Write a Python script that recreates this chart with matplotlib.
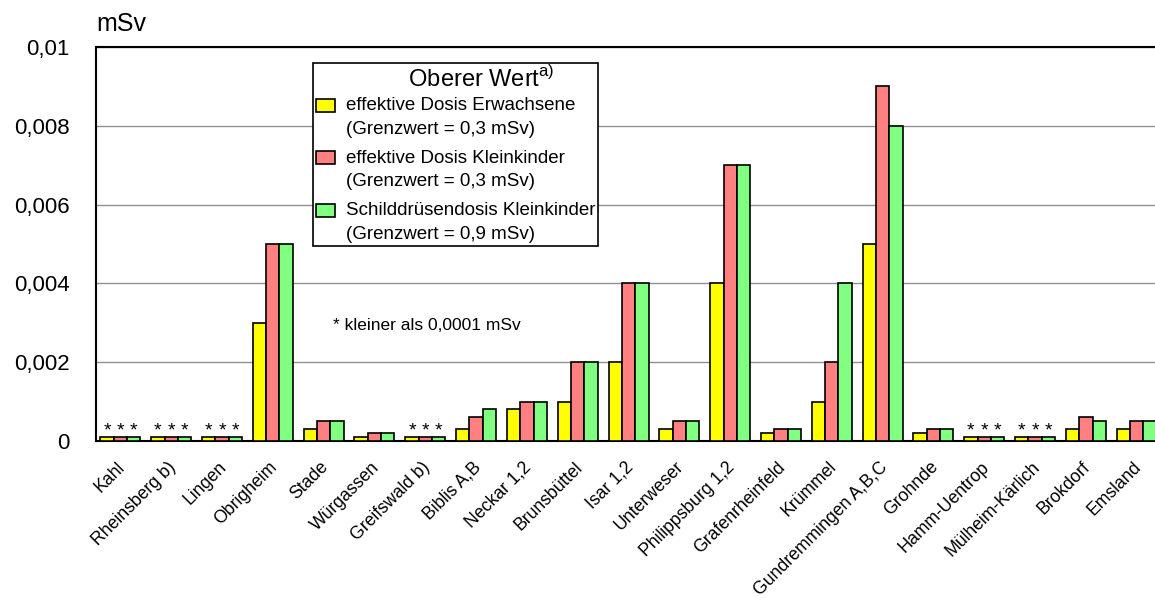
import matplotlib
matplotlib.use("Agg")
from matplotlib import pyplot as plt
from matplotlib.transforms import ScaledTranslation
from matplotlib.legend_handler import HandlerPatch
from matplotlib.patches import Rectangle
import numpy as np

plt.rcParams['font.family'] = ['Liberation Sans', 'DejaVu Sans']
plt.rcParams['mathtext.fontset'] = 'custom'
plt.rcParams['mathtext.rm'] = 'Liberation Sans'

# Kraftwerke (Standorte)
standorte = ["Kahl", "Rheinsberg b)", "Lingen", "Obrigheim", "Stade", "Würgassen",
             "Greifswald b)", "Biblis A,B", "Neckar 1,2", "Brunsbüttel", "Isar 1,2",
             "Unterweser", "Philippsburg 1,2", "Grafenrheinfeld", "Krümmel",
             "Gundremmingen A,B,C", "Grohnde", "Hamm-Uentrop", "Mülheim-Kärlich",
             "Brokdorf", "Emsland"]

# oberer Wert in mSv
erwachsene = [0.0001, 0.0001, 0.0001, 0.003, 0.0003, 0.0001, 0.0001, 0.0003, 0.0008, 0.001,
              0.002, 0.0003, 0.004, 0.0002, 0.001, 0.005, 0.0002, 0.0001, 0.0001, 0.0003, 0.0003]
kleinkinder = [0.0001, 0.0001, 0.0001, 0.005, 0.0005, 0.0002, 0.0001, 0.0006, 0.001, 0.002,
               0.004, 0.0005, 0.007, 0.0003, 0.002, 0.009, 0.0003, 0.0001, 0.0001, 0.0006, 0.0005]
schilddruese = [0.0001, 0.0001, 0.0001, 0.005, 0.0005, 0.0002, 0.0001, 0.0008, 0.001, 0.002,
                0.004, 0.0005, 0.007, 0.0003, 0.004, 0.008, 0.0003, 0.0001, 0.0001, 0.0005, 0.0005]

# Standorte mit Werten kleiner als 0,0001 mSv
kleiner = ["Kahl", "Rheinsberg b)", "Lingen", "Greifswald b)", "Hamm-Uentrop", "Mülheim-Kärlich"]

yticks = [0, 0.002, 0.004, 0.006, 0.008, 0.01]
ylabels = ["0", "0,002", "0,004", "0,006", "0,008", "0,01"]

labels = ["effektive Dosis Erwachsene\n(Grenzwert = 0,3 mSv)",
          "effektive Dosis Kleinkinder\n(Grenzwert = 0,3 mSv)",
          "Schilddrüsendosis Kleinkinder\n(Grenzwert = 0,9 mSv)"]
farben = ["#FFFF00", "#FF8080", "#80FF80"]


def oben_kaestchen(legend, orig_handle, xdescent, ydescent, width, height, fontsize):
    # Kaestchen neben der ersten Textzeile
    return Rectangle((-xdescent, -ydescent + 0.66 * fontsize), width, height)


fig = plt.figure(figsize=(11.55, 5.98), dpi=100)
ax = fig.add_axes([96 / 1155, 1 - 441 / 598, 1 - 96 / 1155, (441 - 47) / 598])

x = np.arange(len(standorte))
w = 0.262
handles = []
for i, (werte, farbe, lab) in enumerate(zip([erwachsene, kleinkinder, schilddruese], farben, labels)):
    b = ax.bar(x + (i - 1) * w, werte, w, color=farbe, edgecolor="black", linewidth=1.2,
               label=lab, zorder=3)
    handles.append(b.patches[0])
    for xi, name, v in zip(x, standorte, werte):
        if name in kleiner:
            ax.annotate("*", (xi + (i - 1) * w, v), xytext=(0, -1.5), textcoords="offset points",
                        ha="center", va="bottom", fontsize=14)

ax.set_xlim(-0.48, 20.36)
ax.set_ylim(0, 0.01)
ax.set_yticks(yticks)
ax.set_yticklabels(ylabels, fontsize=16)
ax.yaxis.grid(True, color="#909090", linewidth=1, zorder=0)
ax.tick_params(axis="y", length=0, pad=19)

ax.set_xticks(x)
ax.set_xticklabels(standorte, rotation=45, ha="right", va="center", rotation_mode="anchor",
                   fontsize=12.7)
ax.tick_params(axis="x", length=0, pad=17)
for lbl in ax.get_xticklabels():
    lbl.set_transform(lbl.get_transform() + ScaledTranslation(2 / 100, 0, fig.dpi_scale_trans))

for s in ["left", "bottom", "top"]:
    ax.spines[s].set_color("black")
    ax.spines[s].set_linewidth(1.5)
ax.spines["right"].set_visible(False)

fig.text(96 / 1155, 1 - 24 / 598, "mSv", fontsize=18, ha="left", va="center")
fig.text(333 / 1155, 1 - 326 / 598, "* kleiner als 0,0001 mSv", fontsize=12.5,
         ha="left", va="center")

leg = ax.legend(handles=handles, labels=labels, loc="upper left",
                bbox_to_anchor=(313 / 1155, 1 - 63 / 598),
                bbox_transform=fig.transFigure, borderaxespad=0, fancybox=False,
                edgecolor="black", framealpha=1, fontsize=13.5,
                title=r"        Oberer Wert$^{\mathrm{a)}}$", title_fontsize=17,
                handlelength=1.0, handleheight=0.7, handletextpad=0.6,
                labelspacing=0.64, borderpad=0.15,
                handler_map={Rectangle: HandlerPatch(patch_func=oben_kaestchen)})
for t in leg.get_texts():
    t.set_linespacing(1.5)
leg._legend_box.sep = 4
leg.get_frame().set_linewidth(1.2)
leg.set_zorder(5)

fig.savefig("out.png", dpi=100)
